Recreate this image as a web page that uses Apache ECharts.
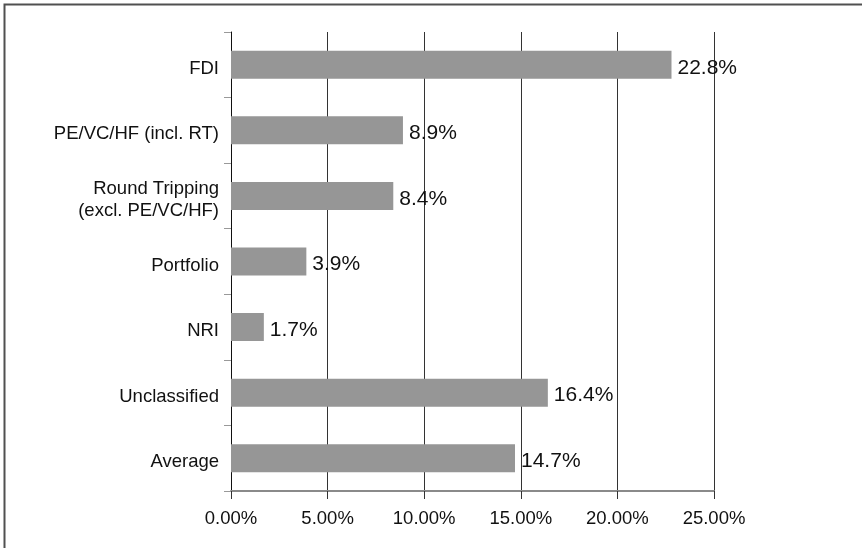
<!DOCTYPE html>
<html>
<head>
<meta charset="utf-8">
<script src="https://cdn.jsdelivr.net/npm/echarts@6/dist/echarts.min.js"></script>
<style>
  html, body { margin: 0; padding: 0; background: #fff; }
  #chart { width: 862px; height: 548px; }
</style>
</head>
<body>
<div id="chart"></div>
<script>
// Investor categories, top to bottom
const categories = [
  'FDI',
  'PE/VC/HF (incl. RT)',
  'Round Tripping\n(excl. PE/VC/HF)',
  'Portfolio',
  'NRI',
  'Unclassified',
  'Average'
];
// Share per category, in percent
const shares = [22.8, 8.9, 8.4, 3.9, 1.7, 16.4, 14.7];
// Value axis range and step, in percent
const axisMin = 0;
const axisMax = 25;
const axisStep = 5;

const FONT = "'Liberation Sans', Arial, sans-serif";

// Category text sits a little below its bar: a thin spacer line on top nudges it down
const categoryLabel = v => '{sp| }\n' + v.split('\n').map(s => '{c|' + s + '}').join('\n');

const chart = echarts.init(document.getElementById('chart'), null, { renderer: 'canvas' });

chart.setOption({
  animation: false,
  backgroundColor: '#fff',
  textStyle: { fontFamily: FONT },
  graphic: [{
    type: 'rect',
    shape: { x: 4.5, y: 4.5, width: 900, height: 600 },
    style: { fill: 'none', stroke: '#505050', lineWidth: 2 },
    silent: true
  }],
  grid: { left: 231, right: 148, top: 32, bottom: 57, containLabel: false },
  xAxis: {
    type: 'value',
    min: axisMin,
    max: axisMax,
    interval: axisStep,
    axisLine: { show: true, lineStyle: { color: '#8a8a8a', width: 2 } },
    axisTick: { show: true, length: 8, lineStyle: { color: '#333' } },
    axisLabel: {
      margin: 18,
      fontSize: 18.5,
      color: '#111',
      fontFamily: FONT,
      formatter: v => v.toFixed(2) + '%'
    },
    splitLine: { show: true, lineStyle: { color: '#333', width: 1 } }
  },
  yAxis: {
    type: 'category',
    data: categories,
    inverse: true,
    axisLine: { show: true, lineStyle: { color: '#111', width: 1 } },
    axisTick: { show: true, length: 7, lineStyle: { color: '#999' } },
    axisLabel: {
      margin: 12,
      color: '#111',
      fontFamily: FONT,
      align: 'right',
      formatter: categoryLabel,
      rich: {
        sp: { fontSize: 8, lineHeight: 8, fontFamily: FONT, align: 'right' },
        c: { fontSize: 18.5, lineHeight: 21.5, color: '#111', fontFamily: FONT, align: 'right' }
      }
    },
    splitLine: { show: false }
  },
  series: [{
    type: 'bar',
    data: shares,
    barWidth: 28,
    itemStyle: { color: '#969696' },
    label: {
      show: true,
      position: 'right',
      distance: 6,
      offset: [0, 3],
      fontSize: 21,
      color: '#111',
      fontFamily: FONT,
      formatter: p => p.value.toFixed(1) + '%'
    }
  }]
});
</script>
</body>
</html>
